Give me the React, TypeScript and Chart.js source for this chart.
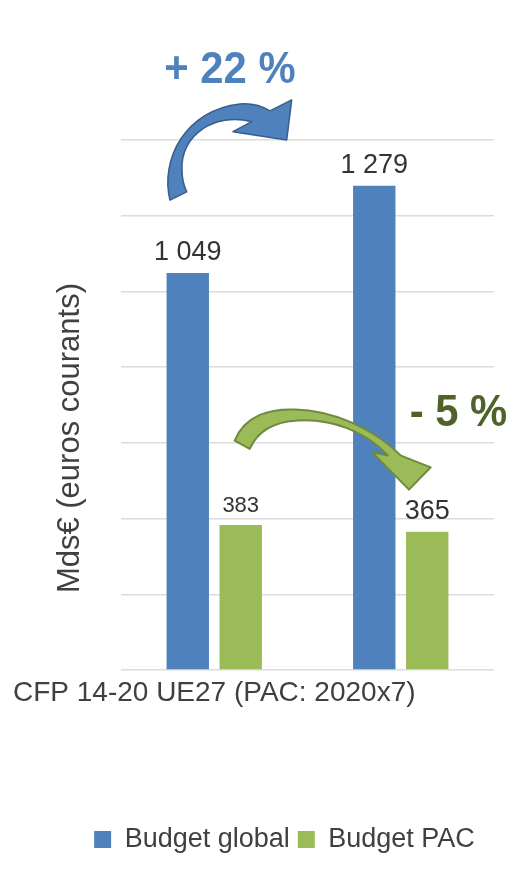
import { useEffect, useRef } from "react";
import { Chart, registerables } from "chart.js";

Chart.register(...registerables);

// ---- data ----
const categories = ["CFP 14-20 UE27 (PAC: 2020x7)", ""];
const seriesNames = ["Budget global", "Budget PAC"];
const budgetGlobal = [1049, 1279];
const budgetPAC = [383, 365];
const yMin = 0;
const yMax = 1400;
const yStep = 200;
const yTitle = "Mds€ (euros courants)";
const changeGlobal = "+ 22 %";
const changePAC = "- 5 %";

// ---- styles ----
const BLUE = "#4F81BD";
const BLUE_DARK = "#385D8A";
const GREEN = "#9BBB59";
const GREEN_DARK = "#71893F";
const OLIVE = "#4F6228";
const TEXT = "#404040";
const FONT = "'Liberation Sans', Arial, sans-serif";
const labelSizes = [
  [27, 27],
  [22, 27],
];

function fmt(v: number) {
  return String(v).replace(/\B(?=(\d{3})+(?!\d))/g, " ");
}

const valueLabels = {
  id: "valueLabels",
  afterDatasetsDraw(chart: any) {
    const ctx = chart.ctx;
    chart.data.datasets.forEach((ds: any, di: number) => {
      const meta = chart.getDatasetMeta(di);
      meta.data.forEach((bar: any, i: number) => {
        ctx.save();
        ctx.font = `${labelSizes[di][i]}px ${FONT}`;
        ctx.fillStyle = "#333333";
        ctx.textAlign = "center";
        ctx.textBaseline = "alphabetic";
        ctx.fillText(fmt(ds.data[i]), bar.x, bar.y - 13);
        ctx.restore();
      });
    });
  },
};

const annotations = {
  id: "annotations",
  afterDraw(chart: any) {
    const ctx = chart.ctx;
    const ca = chart.chartArea;
    const mx = (x: number) => ca.left + ((x - 121) * (ca.right - ca.left)) / 373;
    const my = (y: number) => ca.top + ((y - 140) * (ca.bottom - ca.top)) / 529;
    const M = (x: number, y: number) => ctx.moveTo(mx(x), my(y));
    const L = (x: number, y: number) => ctx.lineTo(mx(x), my(y));
    const C = (a: number, b: number, c: number, d: number, e: number, f: number) =>
      ctx.bezierCurveTo(mx(a), my(b), mx(c), my(d), mx(e), my(f));
    const Q = (a: number, b: number, c: number, d: number) =>
      ctx.quadraticCurveTo(mx(a), my(b), mx(c), my(d));

    // y axis title
    ctx.save();
    ctx.translate(mx(70), my(437.5));
    ctx.rotate(-Math.PI / 2);
    ctx.font = `31px ${FONT}`;
    ctx.fillStyle = TEXT;
    ctx.textAlign = "center";
    ctx.textBaseline = "middle";
    ctx.fillText(yTitle, 0, 0);
    ctx.restore();

    // blue curved arrow
    ctx.save();
    ctx.beginPath();
    M(170, 200);
    C(160, 160, 185, 110, 240, 104);
    C(252, 103, 262, 106, 270, 111);
    L(291.7, 100);
    L(286.7, 140);
    L(233, 131.7);
    L(251.7, 121.7);
    C(215, 112, 180, 135, 182, 170);
    Q(182, 182, 186.7, 191.7);
    ctx.closePath();
    ctx.fillStyle = BLUE;
    ctx.fill();
    ctx.lineWidth = 1.5;
    ctx.strokeStyle = BLUE_DARK;
    ctx.lineJoin = "round";
    ctx.stroke();
    ctx.restore();

    // green curved arrow
    ctx.save();
    ctx.beginPath();
    M(234.7, 440);
    C(245, 415, 270, 408, 295, 409);
    C(330, 410, 370, 425, 401, 455);
    L(430.7, 466.7);
    L(409, 489);
    L(372, 451.7);
    L(388, 455);
    C(365, 430, 330, 418, 298, 420);
    C(275, 421, 258, 430, 249.7, 448.3);
    ctx.closePath();
    ctx.fillStyle = GREEN;
    ctx.fill();
    ctx.lineWidth = 2;
    ctx.strokeStyle = GREEN_DARK;
    ctx.lineJoin = "round";
    ctx.stroke();
    ctx.restore();

    // change labels
    ctx.save();
    ctx.font = `bold 44px ${FONT}`;
    ctx.textAlign = "center";
    ctx.textBaseline = "alphabetic";
    ctx.fillStyle = BLUE;
    ctx.save();
    ctx.translate(mx(230), my(83));
    ctx.scale(0.95, 1);
    ctx.fillText(changeGlobal, 0, 0);
    ctx.restore();
    ctx.fillStyle = OLIVE;
    ctx.save();
    ctx.translate(mx(458.5), my(425));
    ctx.scale(0.95, 1);
    ctx.fillText(changePAC, 0, 0);
    ctx.restore();
    ctx.restore();
  },
};

export default function App() {
  const ref = useRef<HTMLCanvasElement | null>(null);

  useEffect(() => {
    if (!ref.current) return;
    const chart = new Chart(ref.current, {
      type: "bar",
      data: {
        labels: categories,
        datasets: [
          {
            label: seriesNames[0],
            data: budgetGlobal,
            backgroundColor: BLUE,
            categoryPercentage: 0.568,
            barPercentage: 0.8,
          },
          {
            label: seriesNames[1],
            data: budgetPAC,
            backgroundColor: GREEN,
            categoryPercentage: 0.568,
            barPercentage: 0.8,
          },
        ],
      },
      options: {
        animation: false,
        responsive: true,
        maintainAspectRatio: false,
        layout: { padding: { left: 75, right: 20, top: 140, bottom: 6 } },
        plugins: {
          tooltip: { enabled: false },
          title: { display: false },
          legend: {
            position: "bottom",
            labels: {
              boxWidth: 17,
              boxHeight: 17,
              padding: 8,
              color: TEXT,
              font: { size: 27, family: FONT },
            },
          },
        },
        scales: {
          x: {
            grid: { display: false, drawTicks: false },
            border: { display: false },
            ticks: {
              color: TEXT,
              font: { size: 28, family: FONT },
              padding: 6,
              maxRotation: 0,
              minRotation: 0,
              autoSkip: false,
            },
            afterFit(scale: any) {
              scale.height = 148;
              scale.paddingLeft = 0;
              scale.paddingRight = 0;
            },
          },
          y: {
            min: yMin,
            max: yMax,
            ticks: { display: false, stepSize: yStep },
            grid: { color: "#DCDCDC", lineWidth: 1.5, drawTicks: false },
            border: { display: false },
            afterFit(scale: any) {
              scale.width = 46;
            },
          },
        },
      },
      plugins: [valueLabels, annotations],
    });
    return () => chart.destroy();
  }, []);

  return (
    <div style={{ position: "absolute", left: 0, top: 0, width: 514, height: 869, background: "#fff" }}>
      <canvas ref={ref} />
    </div>
  );
}
